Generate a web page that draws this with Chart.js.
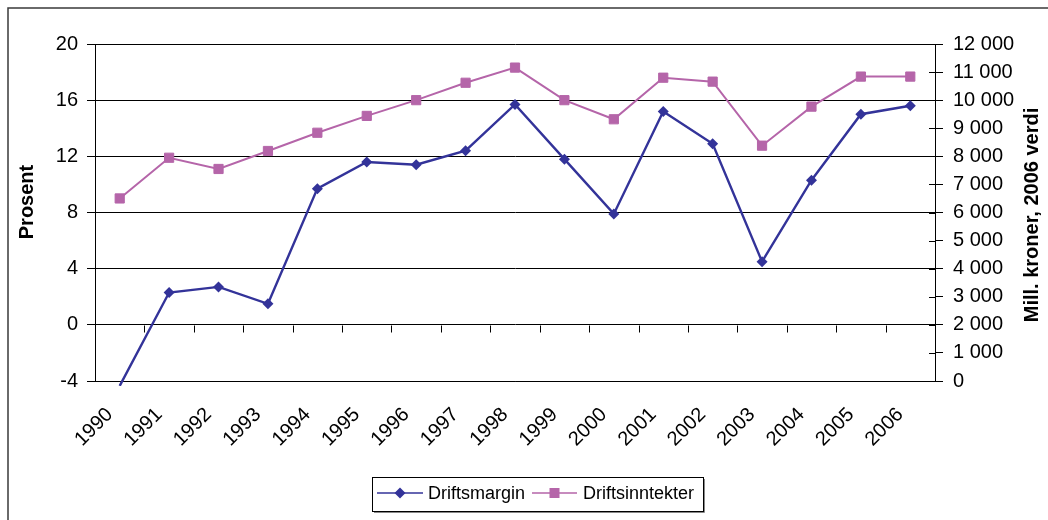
<!DOCTYPE html>
<html>
<head>
<meta charset="utf-8">
<script src="https://cdn.jsdelivr.net/npm/chart.js@4.4.1/dist/chart.umd.min.js"></script>
<style>
  html, body { margin: 0; padding: 0; background: #fff; }
  #wrap { width: 1048px; height: 520px; }
</style>
</head>
<body>
<div id="wrap"><canvas id="myChart" width="1048" height="520"></canvas></div>
<script>
const years = ['1990', '1991', '1992', '1993', '1994', '1995', '1996', '1997', '1998',
    '1999', '2000', '2001', '2002', '2003', '2004', '2005', '2006'];

// Prosent (left axis)
const driftsmargin = [-4.35, 2.3, 2.7, 1.5, 9.7, 11.6, 11.4, 12.4, 15.7,
    11.8, 7.9, 15.2, 12.9, 4.5, 10.3, 15.0, 15.6];

// Mill. kroner, 2006 verdi (right axis)
const driftsinntekter = [6500, 7950, 7550, 8190, 8840, 9440, 10000, 10620, 11160,
    10000, 9320, 10800, 10660, 8380, 9770, 10840, 10840];

const leftTitle = 'Prosent';
const rightTitle = 'Mill. kroner, 2006 verdi';

const navy = '#333399';
const pink = '#B565A9';
const fontFamily = "'Liberation Sans', Arial, sans-serif";

Chart.defaults.font.family = fontFamily;
Chart.defaults.color = '#000';

function drawMarker(ctx, style, x, y, color) {
    ctx.fillStyle = color;
    ctx.beginPath();
    if (style === 'rectRot') {
        ctx.moveTo(x, y - 5.5);
        ctx.lineTo(x + 5.5, y);
        ctx.lineTo(x, y + 5.5);
        ctx.lineTo(x - 5.5, y);
        ctx.closePath();
    } else {
        ctx.rect(x - 5, y - 5, 10, 10);
    }
    ctx.fill();
}

const extras = {
    id: 'extras',
    afterDraw(chart) {
        const ctx = chart.ctx;
        const x = chart.scales.x;
        const y = chart.scales.y;
        const y1 = chart.scales.y1;
        ctx.save();

        // outer frame (top and left only)
        ctx.strokeStyle = '#3a3a3a';
        ctx.lineWidth = 1.5;
        ctx.beginPath();
        ctx.moveTo(8, 520);
        ctx.lineTo(8, 8);
        ctx.lineTo(1048, 8);
        ctx.stroke();

        // category tick marks on the zero line
        const y0 = Math.round(y.getPixelForValue(0)) + 0.5;
        ctx.strokeStyle = '#000';
        ctx.lineWidth = 1;
        ctx.beginPath();
        for (let i = 0; i < years.length - 1; i++) {
            const bx = Math.round((x.getPixelForValue(i) + x.getPixelForValue(i + 1)) / 2) + 0.5;
            ctx.moveTo(bx, y0);
            ctx.lineTo(bx, y0 + 7);
        }
        ctx.stroke();

        // right axis tick marks cross the axis
        ctx.beginPath();
        y1.ticks.forEach((t) => {
            const py = Math.round(y1.getPixelForValue(t.value)) + 0.5;
            ctx.moveTo(y1.left - 6, py);
            ctx.lineTo(y1.left, py);
        });
        ctx.stroke();

        // axis titles
        ctx.fillStyle = '#000';
        ctx.font = 'bold 20px ' + fontFamily;
        ctx.textAlign = 'center';
        ctx.textBaseline = 'middle';
        ctx.save();
        ctx.translate(27, 202);
        ctx.rotate(-Math.PI / 2);
        ctx.fillText(leftTitle, 0, 0);
        ctx.restore();
        ctx.save();
        ctx.translate(1032, 215);
        ctx.rotate(-Math.PI / 2);
        ctx.fillText(rightTitle, 0, 0);
        ctx.restore();

        // legend
        ctx.strokeStyle = '#888';
        ctx.lineWidth = 1;
        ctx.beginPath();
        ctx.moveTo(704.5, 479);
        ctx.lineTo(704.5, 512.5);
        ctx.lineTo(374, 512.5);
        ctx.stroke();
        ctx.strokeStyle = '#000';
        ctx.strokeRect(372.5, 477.5, 331, 34);

        const items = [
            { x0: 377, x1: 423, tx: 428, style: 'rectRot' },
            { x0: 532, x1: 577, tx: 583, style: 'rect' }
        ];
        const ly = 493;
        ctx.font = '18px ' + fontFamily;
        ctx.textAlign = 'left';
        chart.data.datasets.forEach((ds, i) => {
            const it = items[i];
            ctx.strokeStyle = ds.borderColor;
            ctx.lineWidth = 1.5;
            ctx.beginPath();
            ctx.moveTo(it.x0, ly);
            ctx.lineTo(it.x1, ly);
            ctx.stroke();
            drawMarker(ctx, it.style, (it.x0 + it.x1) / 2, ly, ds.borderColor);
            ctx.fillStyle = '#000';
            ctx.fillText(ds.label, it.tx, ly + 1);
        });

        ctx.restore();
    }
};

const config = {
    type: 'line',
    data: {
        labels: years,
        datasets: [{
            label: 'Driftsmargin',
            data: driftsmargin,
            yAxisID: 'y',
            borderColor: navy,
            backgroundColor: navy,
            borderWidth: 2.4,
            pointStyle: 'rectRot',
            pointRadius: (c) => (c.raw < -4 ? 0 : 5.5),
            pointBorderWidth: 0,
            pointBackgroundColor: navy,
            tension: 0,
            clip: { left: false, right: false, top: false, bottom: 5 }
        }, {
            label: 'Driftsinntekter',
            data: driftsinntekter,
            yAxisID: 'y1',
            borderColor: pink,
            backgroundColor: pink,
            borderWidth: 2,
            pointStyle: 'rect',
            pointRadius: 6.5,
            pointBorderWidth: 1,
            pointBackgroundColor: pink,
            tension: 0
        }]
    },
    options: {
        responsive: false,
        animation: false,
        layout: { padding: { top: 44, left: 0, right: 0, bottom: 0 } },
        plugins: {
            legend: { display: false },
            tooltip: { enabled: false }
        },
        scales: {
            x: {
                type: 'category',
                offset: true,
                grid: { display: false },
                border: { display: true, color: '#000', width: 1 },
                ticks: {
                    autoSkip: false,
                    maxRotation: 45,
                    minRotation: 45,
                    padding: 14,
                    labelOffset: -10,
                    font: { size: 20 }
                },
                afterFit: (s) => { s.height = 139; }
            },
            y: {
                position: 'left',
                min: -4,
                max: 20,
                ticks: { stepSize: 4, padding: 9, font: { size: 20 } },
                grid: { color: '#000', lineWidth: 1, tickLength: 8 },
                border: { display: true, color: '#000', width: 1 },
                afterFit: (s) => { s.width = 95; }
            },
            y1: {
                position: 'right',
                min: 0,
                max: 12000,
                ticks: {
                    stepSize: 1000,
                    padding: 10,
                    font: { size: 20 },
                    callback: function(value) {
                        if (value >= 1000) {
                            return Math.floor(value / 1000) + ' 000';
                        }
                        return String(value);
                    }
                },
                grid: { drawOnChartArea: false, color: '#000', tickLength: 8 },
                border: { display: true, color: '#000', width: 1 },
                afterFit: (s) => { s.width = 113; }
            }
        }
    },
    plugins: [extras]
};

let ctx = document.getElementById('myChart').getContext('2d');
var myChart = new Chart(ctx, config);
</script>
</body>
</html>
